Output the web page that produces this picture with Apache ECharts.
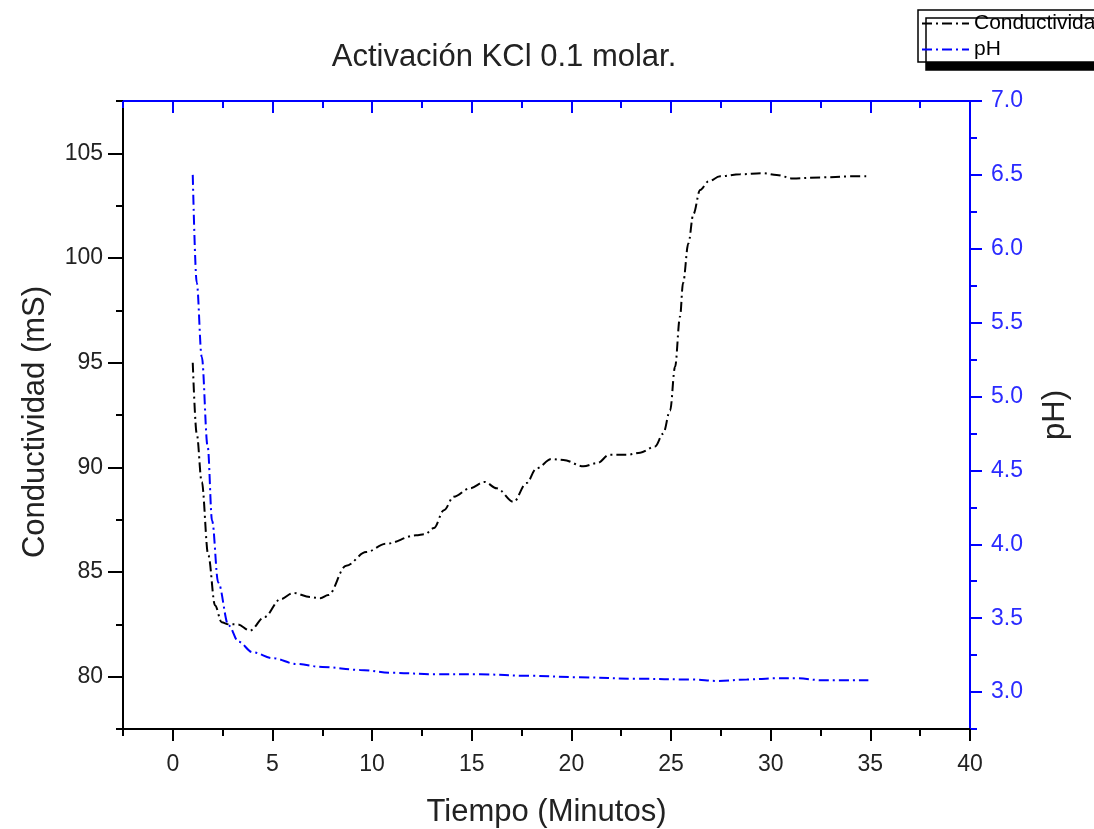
<!DOCTYPE html>
<html>
<head>
<meta charset="utf-8">
<script src="https://cdn.jsdelivr.net/npm/echarts@6/dist/echarts.min.js"></script>
<style>
html,body{margin:0;padding:0;background:#fff;}
#chart{width:1094px;height:829px;}
</style>
</head>
<body>
<div id="chart"></div>
<script>
// ---- data ----
const timeCond = [1, 1.2, 1.45, 1.78, 2.12, 2.45, 2.8, 3.25, 3.87, 4.6, 5.4, 6.05, 6.9, 7.4, 7.8, 8.7, 9.7, 10.7, 12.2, 12.65, 13.1, 13.6, 14.1, 14.9, 15.65, 16.25, 17.1, 17.75, 18.25, 19.0, 19.6, 20.6, 21.3, 21.9, 22.8, 23.45, 24.2, 24.6, 24.95, 25.2, 25.45, 25.6, 25.87, 26.12, 26.46, 26.87, 27.46, 28.46, 29.6, 30.3, 31.1, 32.5, 34.0, 34.9];
const conductividad = [95.0, 91.6, 89.3, 85.8, 83.4, 82.6, 82.5, 82.5, 82.2, 82.85, 83.7, 84.0, 83.8, 83.75, 83.9, 85.3, 85.95, 86.35, 86.75, 86.8, 87.1, 87.95, 88.6, 89.0, 89.3, 89.0, 88.35, 89.25, 89.95, 90.4, 90.35, 90.05, 90.2, 90.6, 90.6, 90.7, 91.0, 91.6, 92.7, 94.8, 97.2, 98.8, 100.7, 102.1, 103.25, 103.65, 103.9, 104.0, 104.05, 103.97, 103.8, 103.85, 103.9, 103.9];
const timePH = [1.0, 1.2, 1.45, 1.75, 1.97, 2.28, 2.8, 3.3, 4.0, 5.0, 6.2, 7.5, 9.4, 11.0, 13.2, 15.4, 17.9, 20.4, 23.3, 26.0, 27.4, 28.8, 30.3, 31.3, 32.6, 34.9];
const pH = [6.50, 5.77, 5.27, 4.66, 4.16, 3.74, 3.45, 3.34, 3.27, 3.23, 3.19, 3.17, 3.15, 3.13, 3.12, 3.12, 3.11, 3.10, 3.09, 3.085, 3.075, 3.085, 3.093, 3.093, 3.08, 3.08];

const xTicks = [0, 5, 10, 15, 20, 25, 30, 35, 40];
const xMinorTicks = [-2.5, 2.5, 7.5, 12.5, 17.5, 22.5, 27.5, 32.5, 37.5];
const condTicks = [80, 85, 90, 95, 100, 105];
const condMinorTicks = [77.5, 82.5, 87.5, 92.5, 97.5, 102.5, 107.5];
const phTicks = [3.0, 3.5, 4.0, 4.5, 5.0, 5.5, 6.0, 6.5, 7.0];
const phMinorTicks = [2.75, 3.25, 3.75, 4.25, 4.75, 5.25, 5.75, 6.25, 6.75];

const titleText = 'Activación KCl 0.1 molar.';
const xName = 'Tiempo (Minutos)';
const yLeftName = 'Conductividad (mS)';
const yRightName = 'pH)';
const seriesNames = ['Conductividad', 'pH'];

// ---- chart ----
const FONT = "'Liberation Sans', Arial, sans-serif";
const BLUE = '#0000ff';
const dash = [10, 4, 2, 4];

const chart = echarts.init(document.getElementById('chart'), null, {renderer: 'canvas'});

function minorAxis(base) {
  return Object.assign({
    type: 'value',
    axisLine: {show: false, onZero: false},
    axisLabel: {show: false},
    splitLine: {show: false}
  }, base);
}

const option = {
  animation: false,
  backgroundColor: '#ffffff',
  title: {
    text: titleText,
    left: 499,
    top: 37,
    textAlign: 'center',
    textStyle: {fontFamily: FONT, fontSize: 31, fontWeight: 'normal', color: '#222'}
  },
  legend: {
    orient: 'vertical',
    left: 918,
    top: 10,
    data: seriesNames,
    itemWidth: 47,
    itemHeight: 14,
    itemGap: 5,
    padding: [3, 200, 2, 3],
    backgroundColor: '#fff',
    borderColor: '#000',
    borderWidth: 1.5,
    borderRadius: 0,
    shadowColor: '#000',
    shadowBlur: 0,
    shadowOffsetX: 8,
    shadowOffsetY: 8,
    itemStyle: {opacity: 0},
    textStyle: {fontFamily: FONT, fontSize: 21, color: '#000'}
  },
  grid: {left: 123, right: 124, top: 101, bottom: 100, containLabel: false, outerBoundsMode: 'none'},
  xAxis: [
    {
      type: 'value', position: 'bottom', min: -2.5, max: 40,
      name: xName, nameLocation: 'middle', nameGap: 68,
      nameTextStyle: {fontFamily: FONT, fontSize: 31, color: '#222'},
      axisLine: {show: true, onZero: false, lineStyle: {color: '#000', width: 2}},
      axisTick: {show: true, inside: false, length: 12, customValues: xTicks, lineStyle: {color: '#000', width: 2}},
      axisLabel: {show: true, customValues: xTicks, margin: 24, fontFamily: FONT, fontSize: 23, color: '#222'},
      splitLine: {show: false}
    },
    minorAxis({
      position: 'bottom', min: -2.5, max: 40,
      axisTick: {show: true, inside: false, length: 7, customValues: xMinorTicks, lineStyle: {color: '#000', width: 2}}
    }),
    {
      type: 'value', position: 'top', min: -2.5, max: 40,
      axisLine: {show: true, onZero: false, lineStyle: {color: BLUE, width: 2}},
      axisTick: {show: true, inside: true, length: 12, customValues: xTicks, lineStyle: {color: BLUE, width: 2}},
      axisLabel: {show: false},
      splitLine: {show: false}
    },
    minorAxis({
      position: 'top', min: -2.5, max: 40,
      axisTick: {show: true, inside: true, length: 7, customValues: xMinorTicks, lineStyle: {color: BLUE, width: 2}}
    })
  ],
  yAxis: [
    {
      type: 'value', position: 'left', min: 77.5, max: 107.5,
      name: yLeftName, nameLocation: 'middle', nameGap: 72, nameRotate: 90,
      nameTextStyle: {fontFamily: FONT, fontSize: 31, color: '#222', padding: [0, 14, 0, 0]},
      axisLine: {show: true, onZero: false, lineStyle: {color: '#000', width: 2}},
      axisTick: {show: true, inside: false, length: 15, customValues: condTicks, lineStyle: {color: '#000', width: 2}},
      axisLabel: {show: true, customValues: condTicks, margin: 20, fontFamily: FONT, fontSize: 23, color: '#222'},
      splitLine: {show: false}
    },
    minorAxis({
      position: 'left', min: 77.5, max: 107.5,
      axisTick: {show: true, inside: false, length: 7, customValues: condMinorTicks, lineStyle: {color: '#000', width: 2}}
    }),
    {
      type: 'value', position: 'right', min: 2.75, max: 7.0,
      name: yRightName, nameLocation: 'middle', nameGap: 70, nameRotate: 90,
      nameTextStyle: {fontFamily: FONT, fontSize: 31, color: '#222'},
      axisLine: {show: true, onZero: false, lineStyle: {color: BLUE, width: 2}},
      axisTick: {show: true, inside: false, length: 12, customValues: phTicks, lineStyle: {color: BLUE, width: 2}},
      axisLabel: {show: true, customValues: phTicks, margin: 21, fontFamily: FONT, fontSize: 23, color: '#2a2aff',
        formatter: v => Number(v).toFixed(1)},
      splitLine: {show: false}
    },
    minorAxis({
      position: 'right', min: 2.75, max: 7.0,
      axisTick: {show: true, inside: false, length: 7, customValues: phMinorTicks, lineStyle: {color: BLUE, width: 2}}
    })
  ],
  series: [
    {
      name: seriesNames[0], type: 'line', xAxisIndex: 0, yAxisIndex: 0,
      data: timeCond.map((t, i) => [t, conductividad[i]]),
      symbol: 'none', showSymbol: false, smooth: 0.35, smoothMonotone: 'x',
      itemStyle: {color: '#000'},
      lineStyle: {color: '#000', width: 2, type: dash}
    },
    {
      name: seriesNames[1], type: 'line', xAxisIndex: 0, yAxisIndex: 2,
      data: timePH.map((t, i) => [t, pH[i]]),
      symbol: 'none', showSymbol: false, smooth: 0.35, smoothMonotone: 'x',
      itemStyle: {color: BLUE},
      lineStyle: {color: BLUE, width: 2, type: dash}
    }
  ]
};
chart.setOption(option);
</script>
</body>
</html>
